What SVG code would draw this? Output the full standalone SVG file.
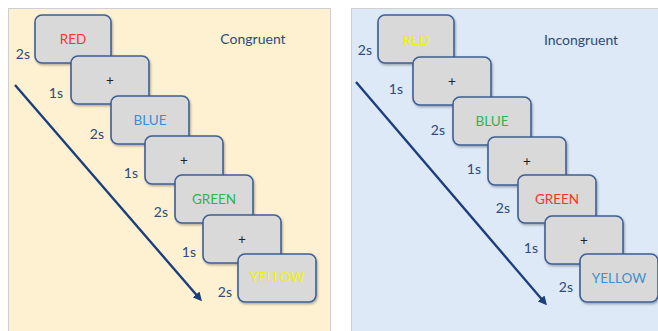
<svg xmlns="http://www.w3.org/2000/svg" width="658" height="331" viewBox="0 0 658 331">
<defs>
<filter id="sh" x="-10%" y="-10%" width="130%" height="130%">
<feDropShadow dx="1" dy="1.5" stdDeviation="1" flood-color="#000" flood-opacity="0.3"/>
</filter>
<marker id="ah" markerWidth="9" markerHeight="9" refX="6" refY="4.5" orient="auto" markerUnits="userSpaceOnUse">
<path d="M0,0 L9,4.5 L0,9 Z" fill="#1c3f7c"/>
</marker>
</defs>
<style>
.panel{stroke:#cfcfcf;stroke-width:1}
.box{fill:#d9d9d9;stroke:#3d5f94;stroke-width:1.6;filter:url(#sh)}
.t{font-family:Lato,"Open Sans",sans-serif;font-size:13.5px;text-anchor:middle}
.lbl{font-family:Lato,"Open Sans",sans-serif;font-size:14px;fill:#2d4a7c;text-anchor:end}
.title{font-family:Lato,"Open Sans",sans-serif;font-size:14px;fill:#2d4a7c;text-anchor:middle}
.plus{fill:#222}
.arrow{stroke:#1c3f7c;stroke-width:2.4;fill:none}
</style>
<rect width="658" height="331" fill="#fff"/>
<rect class="panel" x="8.5" y="8.5" width="322" height="330" fill="#fef1d1"/>
<rect class="panel" x="351.5" y="8.5" width="310" height="330" fill="#dde9f7"/>
<g id="connectors">
<line class="arrow" x1="15" y1="85" x2="200" y2="299" marker-end="url(#ah)"/>
<line class="arrow" x1="356" y1="82" x2="545" y2="303" marker-end="url(#ah)"/>
</g>
<text class="title" x="253" y="44">Congruent</text>
<text class="title" x="581" y="45">Incongruent</text>
<g id="L1"><rect class="box" x="35" y="15" width="76" height="48" rx="7"/><text class="t" x="73" y="44" fill="#ff3030">RED</text><text class="lbl" x="30" y="59">2s</text></g>
<g id="L2"><rect class="box" x="71" y="56" width="78" height="48" rx="7"/><text class="t plus" x="110" y="85">+</text><text class="lbl" x="63" y="98">1s</text></g>
<g id="L3"><rect class="box" x="111" y="96" width="78" height="48" rx="7"/><text class="t" x="150" y="125" fill="#3b8fd0">BLUE</text><text class="lbl" x="104" y="139">2s</text></g>
<g id="L4"><rect class="box" x="145" y="136" width="78" height="48" rx="7"/><text class="t plus" x="184" y="165">+</text><text class="lbl" x="138" y="178">1s</text></g>
<g id="L5"><rect class="box" x="175" y="175" width="78" height="48" rx="7"/><text class="t" x="214" y="204" fill="#2eb350">GREEN</text><text class="lbl" x="168" y="217">2s</text></g>
<g id="L6"><rect class="box" x="203" y="215" width="78" height="48" rx="7"/><text class="t plus" x="242" y="244">+</text><text class="lbl" x="196" y="257">1s</text></g>
<g id="L7"><rect class="box" x="238" y="254" width="78" height="48" rx="7"/><text class="t" x="277" y="282" fill="#f2f200">YELLOW</text><text class="lbl" x="232" y="297">2s</text></g>
<g id="R1"><rect class="box" x="378" y="15" width="76" height="48" rx="7"/><text class="t" x="416" y="45" fill="#f2f200">RED</text><text class="lbl" x="372" y="55">2s</text></g>
<g id="R2"><rect class="box" x="413" y="57" width="78" height="48" rx="7"/><text class="t plus" x="452" y="86">+</text><text class="lbl" x="403" y="94">1s</text></g>
<g id="R3"><rect class="box" x="453" y="97" width="78" height="48" rx="7"/><text class="t" x="492" y="126" fill="#2eb350">BLUE</text><text class="lbl" x="445" y="135">2s</text></g>
<g id="R4"><rect class="box" x="488" y="137" width="78" height="48" rx="7"/><text class="t plus" x="527" y="166">+</text><text class="lbl" x="481" y="174">1s</text></g>
<g id="R5"><rect class="box" x="518" y="175" width="78" height="48" rx="7"/><text class="t" x="557" y="204" fill="#ff3030">GREEN</text><text class="lbl" x="510" y="213">2s</text></g>
<g id="R6"><rect class="box" x="545" y="216" width="78" height="48" rx="7"/><text class="t plus" x="584" y="245">+</text><text class="lbl" x="538" y="253">1s</text></g>
<g id="R7"><rect class="box" x="580" y="254" width="78" height="48" rx="7"/><text class="t" x="619" y="283" fill="#3b8fd0">YELLOW</text><text class="lbl" x="573" y="292">2s</text></g>
</svg>
